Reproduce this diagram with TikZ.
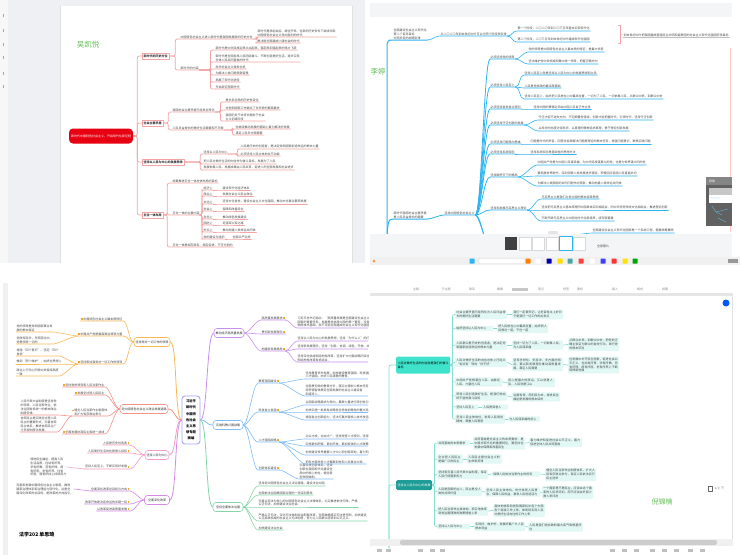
\documentclass[tikz,border=0pt]{standalone}
\usepackage{fontspec}
\setmainfont{Noto Sans CJK SC}
\XeTeXlinebreaklocale "zh"
\XeTeXlinebreakskip=0pt plus 1pt
\usetikzlibrary{positioning}
\definecolor{uigrey}{HTML}{EEF0F3}
\definecolor{uibar}{HTML}{F4F5F7}
\definecolor{namegreen}{HTML}{62BF55}
\definecolor{wkred}{HTML}{E60012}
\definecolor{wkline}{HTML}{F3A5A5}
\definecolor{ltblue}{HTML}{2DB4F2}
\definecolor{sqpurple}{HTML}{C790EC}
\definecolor{sqblue}{HTML}{80BDF6}
\definecolor{sqgreen}{HTML}{86D5A8}
\definecolor{sqorange}{HTML}{F7B955}
\definecolor{sqred}{HTML}{F39389}
\definecolor{sqpink}{HTML}{F59CC3}
\definecolor{sqviolet}{HTML}{D58BE6}
\definecolor{sqcore}{HTML}{A9A7F2}
\definecolor{sqmark}{HTML}{F5A623}
\definecolor{njteal}{HTML}{3FE3CB}
\definecolor{njdark}{HTML}{1E9C96}
\definecolor{njbox}{HTML}{E2F8F4}
\definecolor{njline}{HTML}{86DFD1}
\newcommand\sqmk{\textcolor{sqmark}{\rule{1.6pt}{1.6pt}}}
\begin{document}
\begin{tikzpicture}[x=1pt,y=-1pt,line cap=round,line join=round,
    tiny/.style={font=\fontsize{3}{3.9}\selectfont,inner sep=0.5pt,align=left,text=black!72},
    leaf/.style={tiny,anchor=south west},
    leafr/.style={tiny,anchor=south east},
    namelbl/.style={text=namegreen,font=\fontsize{7.5}{8}\selectfont,inner sep=0pt},
    curvy/.style={to path={.. controls +(#1,0) and +(-#1,0) .. (\tikztotarget)}},
    curvy/.default=6,
    curvyl/.style={to path={.. controls +(-#1,0) and +(#1,0) .. (\tikztotarget)}},
    curvyl/.default=6,
    wkroot/.style={fill=wkred,text=white,rounded corners=4pt,minimum width=64pt,minimum height=15pt,font=\fontsize{3}{3.9}\selectfont,inner sep=1pt},
    wkbox/.style={draw=wkline,fill=white,line width=.5pt,anchor=west,inner sep=1.4pt,text=black!80,font=\bfseries\fontsize{3}{3.9}\selectfont},
    wkedge/.style={draw=wkline,line width=.7pt,rounded corners=2pt},
    ltedge/.style={draw=ltblue,line width=.6pt},
    sqrootbox/.style={draw=sqcore,line width=.9pt,rounded corners=3pt,fill=white,align=center,minimum width=18pt,minimum height=48pt,inner sep=1pt,font=\bfseries\fontsize{3.3}{6.2}\selectfont},
    sqtop/.style={draw=#1,line width=.6pt,rounded corners=3pt,fill=white,minimum height=9pt,inner sep=1.5pt,text=black!80,font=\fontsize{3}{3.9}\selectfont},
    sqedge/.style={draw=#1,line width=.6pt},
    njAbox/.style={fill=njteal,rounded corners=1.5pt,anchor=west,align=left,text width=51pt,minimum height=17pt,inner sep=1.5pt,font=\fontsize{3}{3.9}\selectfont},
    njBbox/.style={fill=njdark,text=white,rounded corners=1.5pt,anchor=west,minimum width=36pt,minimum height=10pt,inner sep=1.5pt,font=\fontsize{3}{3.9}\selectfont},
    njleaf/.style={fill=njbox,rounded corners=1pt,anchor=west,align=left,text width=#1,inner sep=1.2pt,font=\fontsize{3}{3.9}\selectfont,text=black!72},
    njedge/.style={draw=njline,line width=.7pt,rounded corners=2pt},
    uitext/.style={tiny,text=black!45},
  ]
\useasboundingbox (0,0) rectangle (740,555);
\fill[white] (0,0) rectangle (740,555);

% ---------- window 1: 吴凯悦
\fill[uigrey] (0,0) rectangle (365,263);
\fill[black!3] (0,0) rectangle (8,263);
\foreach \y in {14,29,43,56,72,85} \fill[black!35] (2.5,\y) rectangle (4,\y+3);
\fill[white] (60,6) rectangle (352,263);
\draw[black!12] (60,6) -- (60,263) (352,6) -- (352,263);
\node[namelbl] (wkname) at (88,45) {吴凯悦};
\node[wkroot] (wkroot) at (101,136) {新时代中国特色社会主义，开启现代化新征程};
\node[wkbox] (wk1) at (142,56) {新时代的历史方位};
\node[wkbox] (wk2) at (142,123) {社会主要矛盾};
\node[wkbox] (wk3) at (142,162) {坚持以人民为中心的发展思想};
\node[wkbox] (wk4) at (142,215) {五位一体布局};
\node[leaf] (wk11) at (180,39) {中国特色社会主义进入新时代是我国发展新的历史方位};
\node[leaf] (wk12) at (180,70) {新时代的内涵};
\node[leaf] (wk111) at (257,37) {新时代是承前启后、继往开来、在新的历史条件下继续夺取\\中国特色社会主义伟大胜利的时代};
\node[leaf] (wk112) at (257,43) {是决胜全面建成小康社会的时代};
\node[leaf] (wk121) at (215,50) {新时代是中华民族迎来从站起来、富起来到强起来的伟大飞跃};
\node[leaf] (wk122) at (215,62) {新时代是全国各族人民团结奋斗、不断创造美好生活、逐步实现\\全体人民共同富裕的时代};
\node[leaf] (wk123) at (215,69) {科学社会主义焕发生机};
\node[leaf] (wk124) at (215,75) {为解决人类问题贡献智慧};
\node[leaf] (wk125) at (215,82) {拓展了现代化途径};
\node[leaf] (wk126) at (215,89) {开启新征程新时代};
\node[leaf] (wk21) at (172,112) {我国社会主要矛盾已经发生转化};
\node[leaf] (wk22) at (172,130) {人民日益增长的美好生活需要和不平衡};
\node[leaf] (wk211) at (225,102) {是关系全局的历史性变化};
\node[leaf] (wk212) at (225,110) {对党和国家工作提出了许多新的更高要求};
\node[leaf] (wk213) at (225,121) {我国仍处于并将长期处于社会\\主义初级阶段};
\node[leaf] (wk221) at (235,129) {在继续推动发展的基础上着力解决好发展};
\node[leaf] (wk222) at (235,135) {满足人民多方面需要};
\node[leaf] (wk31) at (203,154) {坚持以人民为中心};
\node[leaf] (wk32) at (203,164) {把人民对美好生活的向往作为奋斗目标，发展为了人民};
\node[leaf] (wk33) at (203,170) {发展依靠人民，发展成果由人民共享，促进人的全面发展和社会进步};
\node[leaf] (wk311) at (240,149) {人民是历史的创造者，是决定党和国家前途命运的根本力量};
\node[leaf] (wk312) at (240,156) {必须坚持人民主体地位不动摇};
\node[leaf] (wk41) at (172,183) {统筹推进五位一体总体布局的目标};
\node[leaf] (wk42) at (172,215) {五位一体的主要内容};
\node[leaf] (wk43) at (172,247) {五位一体是相互联系、相互促进、不可分割的};
\foreach \n/\y/\a/\b in {1/190/经济上/建设现代化经济体系,2/196/政治上/发展社会主义民主政治,
    3/204/文化上/坚持文化自信，建设社会主义文化强国，推动文化事业繁荣发展,4/211/社会上/保障和改善民生,
    5/219/生态上/推动绿色发展建设,6/225/国防上/走强军兴军之路,7/232/外交上/推动构建人类命运共同体}
  {\node[leaf] (wk42\n) at (203,\y) {\a};
   \node[leaf] (wk42\n g) at (222,\y) {\b};}
\node[leaf] (wk428) at (203,239) {党的建设与组织};
\node[leaf] (wk428g) at (232,239) {全面从严治党};
\foreach \kid in {wk1,wk2,wk3,wk4}
  \draw[wkedge] (wkroot.east) -- ++(4,0) |- (\kid.west);
\foreach \kid in {wk11,wk12}
  \draw[wkedge] (wk1.east) -- ++(6,0) |- (\kid.south west) -- (\kid.south east);
\foreach \kid in {wk111,wk112}
  \draw[wkedge] (wk11.south east) -- ++(4,0) |- (\kid.south west) -- (\kid.south east);
\foreach \kid in {wk121,wk122,wk123,wk124,wk125,wk126}
  \draw[wkedge] (wk12.south east) -- ++(11,0) |- (\kid.south west) -- (\kid.south east);
\foreach \kid in {wk21,wk22}
  \draw[wkedge] (wk2.east) -- ++(5,0) |- (\kid.south west) -- (\kid.south east);
\foreach \kid in {wk211,wk212,wk213}
  \draw[wkedge] (wk21.south east) -- ++(5,0) |- (\kid.south west) -- (\kid.south east);
\foreach \kid in {wk221,wk222}
  \draw[wkedge] (wk22.south east) -- ++(8,0) |- (\kid.south west) -- (\kid.south east);
\foreach \kid in {wk31,wk32,wk33}
  \draw[wkedge] (wk3.east) -- ++(16,0) |- (\kid.south west) -- (\kid.south east);
\foreach \kid in {wk311,wk312}
  \draw[wkedge] (wk31.south east) -- ++(9,0) |- (\kid.south west) -- (\kid.south east);
\foreach \kid in {wk41,wk42,wk43}
  \draw[wkedge] (wk4.east) -- ++(4,0) |- (\kid.south west) -- (\kid.south east);
\foreach \n in {1,...,8}
  {\draw[wkedge] (wk42.south east) -- ++(1.5,0) |- (wk42\n.south west) -- (wk42\n.south east);
   \draw[wkedge] (wk42\n.south east) -- (wk42\n g.south west) -- (wk42\n g.south east);}

% ---------- window 2: 李婷
\fill[uibar] (370,3) rectangle (732,17);
\node[namelbl] (ltname) at (378,72) {李婷};
\coordinate (ltroot) at (387,252);
\coordinate (ltI) at (490,247);
\coordinate (ltJ) at (493,256);
\node[leaf] (lt0) at (393,40) {全面建设社会主义现代化\\第二个百年目标\\分两步走的战略安排};
\node[leaf] (lt1) at (440,36) {从二〇二〇年到本世纪中叶可以分两个阶段来安排};
\node[leaf] (lt11) at (517,31) {第一个阶段，二〇二〇年到二〇三五年基本实现现代化};
\node[leaf] (lt12) at (517,42) {第二个阶段，二〇三五年到本世纪中叶建成现代化强国};
\node[leaf] (lt13) at (623,37) {到本世纪中叶把我国建成富强民主文明和谐美丽的社会主义现代化强国宏伟目标};
\node[leaf] (lt2) at (393,219) {新时代我国社会主要矛盾\\是人民日益增长的需要};
\node[leaf] (lt3) at (444,215) {坚持中国特色社会主义};
\node[leaf] (ltA) at (490,59) {必须坚持党的领导};
\node[leaf] (ltB) at (490,87) {必须坚持人民至上};
\node[leaf] (ltC) at (490,109) {必须坚持自信自立原则};
\node[leaf] (ltD) at (490,125) {必须坚持守正创新的发展};
\node[leaf] (ltE) at (490,144) {必须坚持问题导向思维};
\node[leaf] (ltF) at (490,154) {必须坚持系统观念};
\node[leaf] (ltG) at (490,177) {坚持胸怀天下的格局};
\node[leaf] (ltH) at (490,210) {坚持和发展马克思主义理论};
\node[leaf] (ltA1) at (528,52) {党的领导是中国特色社会主义最本质的特征，是最大优势};
\node[leaf] (ltA2) at (528,64) {坚决维护党中央权威和集中统一领导，把握正确方向};
\node[leaf] (ltB1) at (524,75) {坚持人民至上就是坚持以人民为中心的发展思想和立场};
\node[leaf] (ltB2) at (524,88) {人民是党执政的最深厚基础};
\node[leaf] (ltB3) at (524,99) {坚持人民至上，始终把人民放在心中最高位置，一切为了人民，一切依靠人民，从群众中来，到群众中去};
\node[leaf] (ltC1) at (533,109) {坚持中国的事情必须由中国人民自己作主张};
\node[leaf] (ltD1) at (538,120) {守正才能不迷失方向、不犯颠覆性错误，创新才能把握时代、引领时代，坚持守正创新};
\node[leaf] (ltD2) at (538,131) {以科学的态度对待科学、以真理的精神追求真理，勇于理论创新发展};
\node[leaf] (ltE1) at (530,144) {问题是时代的声音，回答并指导解决问题是理论的根本任务，增强问题意识，聚焦实践问题};
\node[leaf] (ltF1) at (530,154) {坚持系统观念是基础性的思想方法};
\node[leaf] (ltG1) at (537,165) {中国共产党是为中国人民谋幸福、为中华民族谋复兴的党，也是为世界谋大同的党};
\node[leaf] (ltG2) at (537,176) {要拓展世界眼光，深刻洞察人类发展进步潮流，积极回应各国人民普遍关切};
\node[leaf] (ltG3) at (537,186) {为解决人类面临的共同问题作出贡献，推动构建人类命运共同体};
\node[leaf] (ltH1) at (541,199) {马克思主义是我们立党立国的根本指导思想};
\node[leaf] (ltH2) at (541,210) {坚持把马克思主义基本原理同中国具体实际相结合、同中华优秀传统文化相结合，推进理论创新};
\node[leaf] (ltH3) at (541,221) {不断开辟马克思主义中国化时代化新境界，续写新篇章};
\node[leaf] (ltI1) at (592,233) {全面建设社会主义现代化国家是一个系统工程，需要统筹兼顾};
\draw[red!22] (730,48) -- (730,232);
\draw[ltedge,line width=1pt,rounded corners=4pt] (ltroot) |- (lt0.south west) -- (lt0.south east);
\draw[ltedge,line width=1pt] (ltroot) .. controls +(0,-30) and +(-5,0) .. (lt2.south west) -- (lt2.south east);
\draw[ltedge] (lt0.south east) to[curvy=5] (lt1.south west) -- (lt1.south east);
\foreach \kid in {lt11,lt12}
  \draw[ltedge] (lt1.south east) to[curvy=5] (\kid.south west) -- (\kid.south east);
\draw[wkline,line width=.6pt] (lt11.north east) ++(28,-1) coordinate (ltbr) -- ++(2,0) -- ++(0,18) -- ++(-2,0);
\draw[wkline,line width=.6pt] (ltbr) ++(2,9) -- (lt13.west);
\draw[black!25,line width=.8pt] (lt13.south west) -- (lt13.south east);
\draw[ltedge,line width=.8pt] (lt2.south east) to[curvy=5] (lt3.south west) -- (lt3.south east);
\foreach \kid in {ltA,ltB,ltC,ltD,ltE,ltF,ltG,ltH}
  \draw[ltedge,line width=.8pt] (lt3.south east) to[curvy=6] (\kid.south west) -- (\kid.south east);
\draw[ltedge,line width=.8pt] (lt3.south east) to[curvy=6] (ltI);
\draw[ltedge,line width=.8pt] (lt3.south east) to[curvy=4] (ltJ);
\draw[ltedge] (ltI) to[curvy=8] (ltI1.south west) -- (ltI1.south east);
\foreach \p/\kid in {ltA/ltA1,ltA/ltA2,ltB/ltB1,ltB/ltB2,ltB/ltB3,ltC/ltC1,ltD/ltD1,ltD/ltD2,ltE/ltE1,ltF/ltF1,
    ltG/ltG1,ltG/ltG2,ltG/ltG3,ltH/ltH1,ltH/ltH2,ltH/ltH3}
  \draw[ltedge] (\p.south east) to[curvy=5] (\kid.south west) -- (\kid.south east);
% navigator and bars
\fill[black!62] (706,177) rectangle (732,226);
\fill[black!48] (706,177) rectangle (732,185);
\node[tiny,text=white] (ltnav) at (712,181) {导航};
\fill[black!22] (709,188) rectangle (732,195);
\fill[white] (709,195) rectangle (732,203);
\draw[ltblue!80,line width=.3pt] (712,206) -- (716,212) -- (722,215) (716,212) -- (728,209) (718,218) -- (726,222) (711,198) -- (720,198);
\fill[uibar] (370,234) rectangle (732,257);
\fill[black!10,rounded corners=1pt] (548,231) rectangle (558,234);
\fill[black!75] (505,237) rectangle (517,250);
\foreach \x in {519,532,546,573} \draw[black!15,fill=white] (\x,237) rectangle (\x+12,250);
\draw[ltblue,line width=.8pt,fill=white] (559,236.5) rectangle (572,250.5);
\node[tiny,text=black!70] (ltall) at (603,246) {全部图片};
\fill[black!6] (370,257) rectangle (740,265);
\fill[orange!80] (374,261) circle (1.5);
\fill[white,draw=black!15,rounded corners=2pt] (478,258.5) rectangle (525,263.5);
\foreach \x/\col in {472/ltblue,528/orange,538/white,549/blue!70!black,560/yellow!80!orange,570/teal!70,
    581/red!75,592/white,603/blue!75,614/red!80,625/yellow!85!orange,635/green!65!black}
  \fill[\col,rounded corners=.5pt] (\x-2.5,258.5) rectangle (\x+2.5,263.5);
\fill[black!40] (728,259) rectangle (738,263);

% ---------- window 3: 法学202 单思琦
\fill[black!6] (3,283) rectangle (8,555);
\begin{scope}
\clip (0,280) rectangle (368,555);
\node[sqrootbox] (sqroot) at (191,420) {习近平\\新时代\\中国特\\色社会\\主义思\\想专题\\摘编};
\node[sqtop=sqpurple] (sqR1) at (229,333) {推动经济高质量发展};
\node[sqtop=sqblue,minimum width=30pt] (sqR2) at (228,425) {实施科教兴国战略};
\node[sqtop=sqgreen,minimum width=30pt] (sqR3) at (228,507) {坚持全面依法治国};
\node[sqtop=sqorange] (sqL1) at (152,342) {坚持党对一切工作的领导};
\node[sqtop=sqred] (sqL2) at (144,409) {走中国特色社会主义政治发展道路};
\node[sqtop=sqpink] (sqL3) at (157,455) {坚持人民为中心};
\node[sqtop=sqviolet,minimum width=25pt] (sqL4) at (157,500) {全面深化改革};
% right side
\node[leaf] (sqR11) at (261,320) {高质量发展要求\,\sqmk};
\node[leaf] (sqR12) at (261,334) {贯彻新发展理念\,\sqmk};
\node[leaf] (sqR13) at (261,351) {构建新发展格局\,\sqmk};
\node[leaf] (sqR111) at (297,328) {习近平总书记指出：“高质量发展是全面建设社会主义现代化\\国家的首要任务。发展是党执政兴国的第一要务，没有坚实的\\物质技术基础，就不可能全面建成社会主义现代化强国。”};
\node[leaf] (sqR131) at (297,341) {坚持以人民为中心的发展思想，坚持“为什么人”的问题。};
\node[leaf] (sqR132) at (297,349) {坚持新发展理念，坚持“创新、协调、绿色、开放、共享”。};
\node[leaf] (sqR133) at (297,362) {坚持深化供给侧结构性改革，坚持扩大内需战略同深化供给\\侧结构性改革有机结合。};
\node[leaf] (sqR21) at (258,383) {教育强国建设\,\sqmk};
\node[leaf] (sqR22) at (258,412) {科技自立自强\,\sqmk};
\node[leaf] (sqR23) at (258,442) {人才强国战略\,\sqmk};
\node[leaf] (sqR24) at (258,470) {创新体系建设\,\sqmk};
\node[leaf] (sqR211) at (305,379) {坚持教育优先发展，加快建设教育强国、科技强国、\\人才强国，办好人民满意的教育。};
\node[leaf] (sqR212) at (305,396) {全面贯彻党的教育方针，落实立德树人根本任务，\\培养德智体美劳全面发展的社会主义建设者\\和接班人。};
\node[leaf] (sqR221) at (305,405) {以国家战略需求为导向，集聚力量进行原创性引领性科技攻关。};
\node[leaf] (sqR222) at (305,412) {加快实施一批具有战略性全局性前瞻性的重大科技项目。};
\node[leaf] (sqR223) at (305,420) {增强自主创新能力，坚决打赢关键核心技术攻坚战。};
\node[leaf] (sqR231) at (305,439) {功以才成，业由才广。坚持党管人才原则，坚持尊重劳动。};
\node[leaf] (sqR232) at (305,446) {实施更加积极、更加开放、更加有效的人才政策。};
\node[leaf] (sqR233) at (305,455) {加快建设世界重要人才中心和创新高地，着力形成人才竞争优势。};
\node[leaf] (sqR234) at (305,464) {把各方面优秀人才集聚到党和人民事业中来。};
\node[leaf] (sqR241) at (299,479) {完善科技创新体系，坚持\\创新在我国现代化建设全\\局中的核心地位，健全新\\型举国体制。};
\node[leaf] (sqR31) at (258,486) {坚持走中国特色社会主义法治道路，建设法治中国};
\node[leaf] (sqR32) at (258,495) {全面依法治国是国家治理的一场深刻革命};
\node[leaf] (sqR33) at (258,507) {完善以宪法为核心的中国特色社会主义法律体系，扎实推进依法行政，严格\\公正司法，加快建设法治社会。};
\node[leaf] (sqR34) at (258,521) {严格公正司法，深化司法体制综合配套改革，全面准确落实司法责任制，加快建设\\公正高效权威的社会主义司法制度，努力让人民群众感受到公平正义。};
\node[leaf] (sqR35) at (258,530) {加快建设法治社会};
% left side
\node[leafr] (sqL11) at (123,321) {\sqmk\,中国特色社会主义最本质特征};
\node[leafr] (sqL12) at (123,336) {\sqmk\,中国共产党是最高政治领导力量};
\node[leafr] (sqL13) at (123,364) {\sqmk\,坚持和加强党对一切工作的领导};
\node[leaf] (sqL121) at (16,332) {党的领导是党和国家事业发\\展的根本保证};
\node[leaf] (sqL122) at (16,344) {党政军民学，东西南北中，\\党是领导一切的};
\node[leaf] (sqL131) at (16,356) {增强“四个意识”、坚定“四个\\自信”};
\node[leaf] (sqL132) at (16,364) {做到“两个维护”，始终在思想上};
\node[leaf] (sqL133) at (16,376) {政治上行动上同党中央保持高度\\一致};
\node[leafr] (sqL21) at (105,387) {\sqmk\,坚持党的领导和人民当家作主};
\node[leafr] (sqL22) at (105,395) {\sqmk\,发展全过程人民民主};
\node[leafr] (sqL23) at (108,416) {\sqmk\,健全人民当家作主制度体\\\phantom{\sqmk\,}系扩大有序政治参与};
\node[leafr] (sqL24) at (105,434) {\sqmk\,全面发展协商民主和统一战线};
\node[leaf] (sqL231) at (20,415) {人民代表大会制度是坚持党\\的领导、人民当家作主、依\\法治国有机统一的根本政治\\制度安排。};
\node[leaf] (sqL232) at (20,432) {协商民主是实践全过程人民\\民主的重要形式，完善协商\\民主体系，推进协商民主广\\泛多层制度化发展。};
\node[leafr] (sqL31) at (130,445) {人民是历史创造者\,\sqmk};
\node[leafr] (sqL32) at (130,453) {人民美好生活向往是奋斗目标\,\sqmk};
\node[leafr] (sqL33) at (130,469) {坚持人民至上，不断实现好发展\,\sqmk};
\node[tiny,anchor=east] (sqL331) at (67,467) {增进民生福祉，提高人民\\生活品质，在幼有所育、\\学有所教、劳有所得、病\\有所医、老有所养、住有\\所居、弱有所扶上持续用力};
\node[leafr] (sqL41) at (130,491) {全面深化改革总目标与方向\,\sqmk};
\node[leafr] (sqL42) at (130,504) {改革开放是决定命运的关键一招\,\sqmk};
\node[leafr] (sqL43) at (130,511) {以改革促进高质量发展\,\sqmk};
\node[tiny,anchor=east] (sqL411) at (74,489) {完善和发展中国特色社会主义制度，推进\\国家治理体系和治理能力现代化，这是全\\面深化改革的总目标，是改革的方向指引。};
% connectors
\draw[sqedge=sqpurple,line width=.8pt] (sqroot.east) to[curvy=7] (sqR1.west);
\draw[sqedge=sqblue,line width=.8pt] (sqroot.east) to[curvy=7] (sqR2.west);
\draw[sqedge=sqgreen,line width=.8pt] (sqroot.east) to[curvy=7] (sqR3.west);
\draw[sqedge=sqorange,line width=.8pt] (sqroot.west) to[curvyl=7] (sqL1.east);
\draw[sqedge=sqred,line width=.8pt] (sqroot.west) to[curvyl=7] (sqL2.east);
\draw[sqedge=sqpink,line width=.8pt] (sqroot.west) to[curvyl=7] (sqL3.east);
\draw[sqedge=sqviolet,line width=.8pt] (sqroot.west) to[curvyl=7] (sqL4.east);
\foreach \kid in {sqR11,sqR12,sqR13}
  \draw[sqedge=sqpurple] (sqR1.east) to[curvy=5] (\kid.south west) -- (\kid.south east);
\draw[sqedge=sqpurple] (sqR11.south east) to[curvy=4] (sqR111.south west) -- (sqR111.south east);
\foreach \kid in {sqR131,sqR132,sqR133}
  \draw[sqedge=sqpurple] (sqR13.south east) to[curvy=4] (\kid.south west) -- (\kid.south east);
\foreach \kid in {sqR21,sqR22,sqR23,sqR24}
  \draw[sqedge=sqblue] (sqR2.east) to[curvy=5] (\kid.south west) -- (\kid.south east);
\foreach \p/\kid in {sqR21/sqR211,sqR21/sqR212,sqR22/sqR221,sqR22/sqR222,sqR22/sqR223,sqR23/sqR231,
    sqR23/sqR232,sqR23/sqR233,sqR23/sqR234,sqR24/sqR241}
  \draw[sqedge=sqblue] (\p.south east) to[curvy=5] (\kid.south west) -- (\kid.south east);
\foreach \kid in {sqR31,sqR32,sqR33,sqR34,sqR35}
  \draw[sqedge=sqgreen] (sqR3.east) to[curvy=5] (\kid.south west) -- (\kid.south east);
\foreach \kid in {sqL11,sqL12,sqL13}
  \draw[sqedge=sqorange] (sqL1.west) to[curvyl=5] (\kid.south east) -- (\kid.south west);
\foreach \p/\kid in {sqL12/sqL121,sqL12/sqL122,sqL13/sqL131,sqL13/sqL132,sqL13/sqL133}
  \draw[sqedge=sqorange] (\p.south west) to[curvyl=4] (\kid.south east) -- (\kid.south west);
\foreach \kid in {sqL21,sqL22,sqL23,sqL24}
  \draw[sqedge=sqred] (sqL2.west) to[curvyl=5] (\kid.south east) -- (\kid.south west);
\foreach \kid in {sqL231,sqL232}
  \draw[sqedge=sqred] (sqL23.south west) to[curvyl=4] (\kid.south east) -- (\kid.south west);
\foreach \kid in {sqL31,sqL32,sqL33}
  \draw[sqedge=sqpink] (sqL3.west) to[curvyl=5] (\kid.south east) -- (\kid.south west);
\draw[sqedge=sqpink] (sqL33.south west) -- (sqL331.east);
\foreach \kid in {sqL41,sqL42,sqL43}
  \draw[sqedge=sqviolet] (sqL4.west) to[curvyl=5] (\kid.south east) -- (\kid.south west);
\draw[sqedge=sqviolet] (sqL41.south west) -- (sqL411.east);
\end{scope}
\node[font=\bfseries\fontsize{5}{5}\selectfont,anchor=west,inner sep=0pt] (sqname) at (19,535) {法学202 单思琦};

% ---------- window 4: 倪锦楠
\fill[black!10] (370,293) rectangle (733,296);
\fill[black!22] (512,287.5) rectangle (528,290.5);
\foreach \x/\t in {416/主题,446/子主题,472/联系,500/概要,541/笔记,566/标签,580/图标,615/插入,640/格式,665/视图}
  \node[uitext] (nju\x) at (\x,289) {\t};
\draw[black!12] (732,296) -- (732,540);
\fill[blue!65!cyan] (726,303) circle (3.5);
\coordinate (njroot) at (389,548);
\node[njAbox] (njA) at (396,365) {人民对美好生活的向往就是我们的奋斗目标};
\node[njBbox] (njB) at (396,485) {坚持以人民为中心的发展};
\node[njleaf=49.6pt] (njA1) at (455,314.5) {社会主要矛盾已经转化为人民日益增长的美好生活需要};
\node[njleaf=48.6pt] (njA1a) at (512,314.5) {我们一定要牢记，让老百姓过上好日子是我们一切工作的出发点};
\node[njleaf=35.6pt] (njA2) at (455,328.5) {始终坚持以人民为中心};
\node[njleaf=48.6pt] (njA2a) at (497,328.5) {把人民放在心中最高位置，始终同人民想在一起、干在一起};
\node[njleaf=49.6pt] (njA3) at (455,345) {人民群众是历史的创造者，是决定党和国家前途命运的根本力量};
\node[njleaf=48.6pt] (njA3a) at (512,345) {坚持一切为了人民，一切依靠人民，为人民谋幸福};
\node[njleaf=48.6pt] (njA3b) at (568,344.5) {从群众中来，到群众中去，把党的正确主张变为群众的自觉行动，践行党的根本宗旨};
\node[njleaf=49.6pt] (njA4) at (455,362.5) {人民对美好生活的向往总体上已经从“有没有”转向“好不好”};
\node[njleaf=48.6pt] (njA4a) at (512,364.5) {呈现多样化、多层次、多方面的特点，要以新发展理念推动高质量发展，满足人民需要};
\node[njleaf=48.6pt] (njA4b) at (568,365) {在发展中补齐民生短板，促进社会公平正义，在幼有所育、学有所教、劳有所得、病有所医、老有所养上不断取得新进展};
\node[njleaf=44.6pt] (njA5) at (455,382) {中国共产党根基在人民、血脉在人民、力量在人民};
\node[njleaf=45.6pt] (njA5a) at (507,382.5) {民心是最大的政治，江山就是人民，人民就是江山};
\node[njleaf=49.6pt] (njA6) at (455,396) {带领人民创造美好生活，是我们党始终不渝的奋斗目标};
\node[njleaf=45.6pt] (njA6a) at (512,397) {治国有常，而利民为本，增进民生福祉是发展的根本目的};
\node[njleaf=20.6pt] (njA7) at (455,407) {坚持人民至上};
\node[njleaf=23.6pt] (njA7a) at (482,407) {人民是阅卷人};
\node[njleaf=47.6pt] (njA8) at (455,419) {坚持人民主体地位，发挥人民首创精神，尊重人民意愿};
\node[njleaf=29.6pt] (njA8a) at (508,419) {为人民谋幸福的初心};
\node[njleaf=30.6pt] (njB1) at (437,443) {共同富裕的本质要求};
\node[njleaf=49.6pt] (njB1a) at (473,443) {共同富裕是社会主义的本质要求，是中国式现代化的重要特征，要坚持在发展中保障和改善民生};
\node[njleaf=50.6pt] (njB1b) at (529,442.5) {着力维护和促进社会公平正义，着力促进全体人民共同富裕};
\node[njleaf=23.6pt] (njB2) at (437,459) {全过程人民民主是最广泛的民主};
\node[njleaf=32.6pt] (njB2a) at (467,459) {人民民主是社会主义的生命和灵魂};
\node[njleaf=48.6pt] (njB3) at (437,474.5) {坚持和完善人民代表大会制度，保证人民行使国家权力};
\node[njleaf=45.6pt] (njB3a) at (492,474) {保障人民依法当家作主的权利};
\node[njleaf=48.6pt] (njB3b) at (545,474.5) {健全人民当家作主制度体系，扩大人民有序政治参与，保证人民依法实行民主选举};
\node[njleaf=42.6pt] (njB4) at (437,491.5) {人民是国家的主人，民主是全人类的共同价值};
\node[njleaf=52.6pt] (njB4a) at (485,492) {坚持人民主体地位，充分体现人民意志、保障人民权益、激发人民创造活力};
\node[njleaf=48.6pt] (njB4b) at (542,492.5) {一个国家是不是民主，应该由这个国家的人民来评判，而不应该由外部少数人来评判};
\node[njleaf=48.6pt] (njB5) at (437,511) {把人民当家作主具体地、现实地体现到党治国理政的政策措施上来};
\node[njleaf=49.6pt] (njB5a) at (493,510.5) {具体地体现到党和国家机关各个方面各个层级工作上来，体现到实现人民对美好生活向往的工作上来};
\node[njleaf=30.6pt] (njB6) at (437,526.5) {坚持以人民为中心};
\node[njleaf=48.6pt] (njB6a) at (474,526.5) {实现好、维护好、发展好最广大人民根本利益};
\node[njleaf=52.6pt] (njB6b) at (528,527) {人民是我们党执政的最大底气和根基所在};
\draw[njedge] (njroot) |- (njA.west);
\draw[njedge] (njroot) |- (njB.west);
\foreach \kid in {njA1,njA2,njA3,njA4,njA5,njA6,njA7,njA8}
  \draw[njedge] (njA.east) -- ++(2,0) |- (\kid.west);
\foreach \kid in {njB1,njB2,njB3,njB4,njB5,njB6}
  \draw[njedge] (njB.east) -- ++(2,0) |- (\kid.west);
\foreach \p/\kid in {njA1/njA1a,njA2/njA2a,njA3/njA3a,njA3a/njA3b,njA4/njA4a,njA4a/njA4b,njA5/njA5a,njA6/njA6a,
    njA7/njA7a,njA8/njA8a,njB1/njB1a,njB1a/njB1b,njB2/njB2a,njB3/njB3a,njB3a/njB3b,njB4/njB4a,njB4a/njB4b,
    njB5/njB5a,njB6/njB6a,njB6a/njB6b}
  \draw[njedge] (\p.east) -- (\kid.west);
\node[namelbl,font=\fontsize{7}{7}\selectfont] (njname) at (662,502) {倪锦楠};
\draw[black!60,fill=white] (708,486.5) rectangle (712.5,491.5);
\node[uitext,text=black!60,anchor=west] (njfind) at (714,489) {1/上 下};
\fill[black!6] (370,539) rectangle (733,546);
\fill[black!20,rounded corners=2pt] (400,540) rectangle (717,545);
\foreach \x in {377,386,418,430,440,610,622,634,650,662,674,688,700}
  \fill[black!25] (\x,549) rectangle (\x+5,552);
\end{tikzpicture}
\end{document}
